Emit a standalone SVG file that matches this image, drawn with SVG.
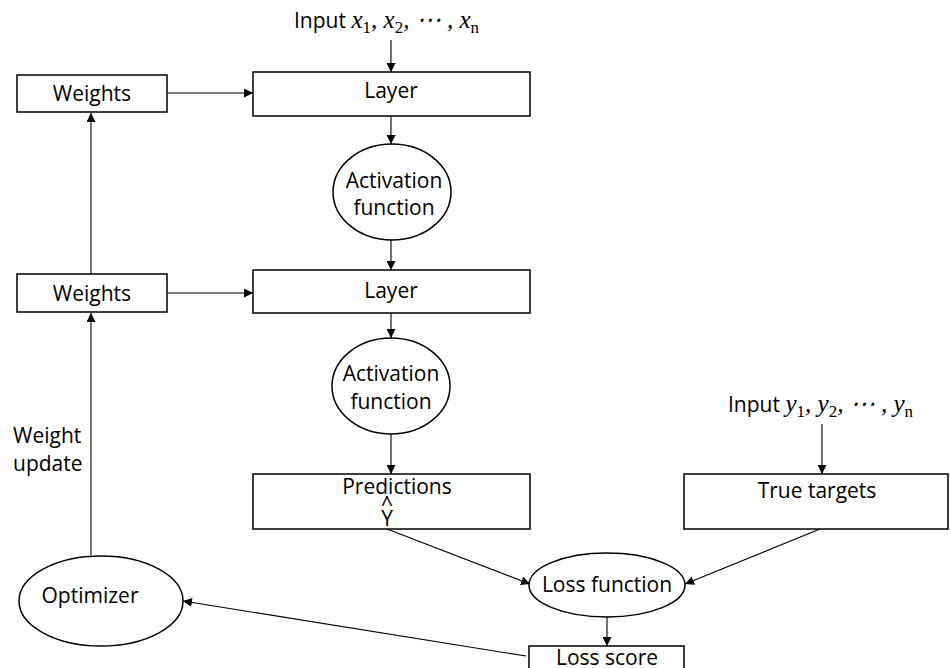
<svg xmlns="http://www.w3.org/2000/svg" width="950" height="668" viewBox="0 0 950 668">
  <defs>
    <marker id="arrow" viewBox="0 0 10 10" refX="10" refY="5" markerWidth="9" markerHeight="9" markerUnits="userSpaceOnUse" orient="auto">
      <path d="M0,0 L10,5 L0,10 z" fill="#000"/>
    </marker>
    <style>
      .box { fill: #fff; stroke: #000; stroke-width: 1.5; }
      .lbl { font-family: "Open Sans", "Liberation Sans", sans-serif; font-size: 21px; fill: #000; text-anchor: middle; }
      .lbl-left { font-family: "Open Sans", "Liberation Sans", sans-serif; font-size: 21px; fill: #000; }
      .math { font-family: "Liberation Serif", "DejaVu Serif", serif; font-style: italic; font-size: 25px; }
      .sub { font-family: "Liberation Serif", "DejaVu Serif", serif; font-style: normal; font-size: 17px; }
      .edge { fill: none; stroke: #000; stroke-width: 1.1; }
    </style>
  </defs>
  <rect width="950" height="668" fill="#fff"/>

  <!-- connectors -->
  <g id="connectors">
    <line class="edge" x1="391" y1="40" x2="391" y2="72" marker-end="url(#arrow)"/>
    <line class="edge" x1="167" y1="93" x2="253" y2="93" marker-end="url(#arrow)"/>
    <line class="edge" x1="167" y1="293" x2="253" y2="293" marker-end="url(#arrow)"/>
    <line class="edge" x1="91" y1="274" x2="91" y2="113" marker-end="url(#arrow)"/>
    <line class="edge" x1="91" y1="555" x2="91" y2="313" marker-end="url(#arrow)"/>
    <line class="edge" x1="391" y1="116" x2="391" y2="144" marker-end="url(#arrow)"/>
    <line class="edge" x1="391" y1="240" x2="391" y2="270" marker-end="url(#arrow)"/>
    <line class="edge" x1="391" y1="313" x2="391" y2="338" marker-end="url(#arrow)"/>
    <line class="edge" x1="391" y1="434" x2="391" y2="474" marker-end="url(#arrow)"/>
    <line class="edge" x1="387" y1="529" x2="530" y2="584" marker-end="url(#arrow)"/>
    <line class="edge" x1="822" y1="424" x2="822" y2="474" marker-end="url(#arrow)"/>
    <line class="edge" x1="820" y1="529" x2="685" y2="584" marker-end="url(#arrow)"/>
    <line class="edge" x1="607" y1="617" x2="607" y2="646" marker-end="url(#arrow)"/>
    <line class="edge" x1="526" y1="656" x2="183" y2="601" marker-end="url(#arrow)"/>
  </g>

  <!-- input labels -->
  <g id="input-x">
    <text class="lbl-left" x="294" y="28">Input <tspan class="math">x</tspan><tspan class="sub" dy="5">1</tspan><tspan class="math" dy="-5">, x</tspan><tspan class="sub" dy="5">2</tspan><tspan class="math" dy="-5" font-style="normal">, ⋯ , </tspan><tspan class="math">x</tspan><tspan class="sub" dy="5" font-style="italic">n</tspan></text>
  </g>
  <g id="input-y">
    <text class="lbl-left" x="728" y="412">Input <tspan class="math">y</tspan><tspan class="sub" dy="5">1</tspan><tspan class="math" dy="-5">, y</tspan><tspan class="sub" dy="5">2</tspan><tspan class="math" dy="-5" font-style="normal">, ⋯ , y</tspan><tspan class="sub" dy="5">n</tspan></text>
  </g>

  <!-- nodes -->
  <g id="weights-1">
    <rect class="box" x="17" y="75" width="150" height="37"/>
    <text class="lbl" x="92" y="101">Weights</text>
  </g>
  <g id="layer-1">
    <rect class="box" x="253" y="72" width="277" height="44"/>
    <text class="lbl" x="391" y="98">Layer</text>
  </g>
  <g id="activation-1">
    <ellipse class="box" cx="392" cy="192" rx="59" ry="48"/>
    <text class="lbl" x="394" y="188">Activation</text>
    <text class="lbl" x="394" y="215">function</text>
  </g>
  <g id="weights-2">
    <rect class="box" x="17" y="274" width="150" height="38"/>
    <text class="lbl" x="92" y="301">Weights</text>
  </g>
  <g id="layer-2">
    <rect class="box" x="253" y="270" width="277" height="43"/>
    <text class="lbl" x="391" y="298">Layer</text>
  </g>
  <g id="activation-2">
    <ellipse class="box" cx="391" cy="386" rx="59" ry="48"/>
    <text class="lbl" x="391" y="381">Activation</text>
    <text class="lbl" x="391" y="409">function</text>
  </g>
  <g id="predictions">
    <rect class="box" x="253" y="474" width="277" height="55"/>
    <text class="lbl" x="397" y="494">Predictions</text>
    <text class="lbl" x="387" y="512" font-size="16">^</text>
    <text class="lbl" x="387" y="526">Y</text>
  </g>
  <g id="true-targets">
    <rect class="box" x="684" y="474" width="264" height="55"/>
    <text class="lbl" x="817" y="498">True targets</text>
  </g>
  <g id="loss-function">
    <ellipse class="box" cx="607" cy="585" rx="78" ry="32"/>
    <text class="lbl" x="607" y="592">Loss function</text>
  </g>
  <g id="loss-score">
    <rect class="box" x="529" y="646" width="155" height="40"/>
    <text class="lbl" x="607" y="665">Loss score</text>
  </g>
  <g id="optimizer">
    <ellipse class="box" cx="101" cy="601" rx="82" ry="45"/>
    <text class="lbl" x="90" y="603">Optimizer</text>
  </g>
  <g id="weight-update">
    <text class="lbl-left" x="13" y="443">Weight</text>
    <text class="lbl-left" x="13" y="471">update</text>
  </g>
</svg>
